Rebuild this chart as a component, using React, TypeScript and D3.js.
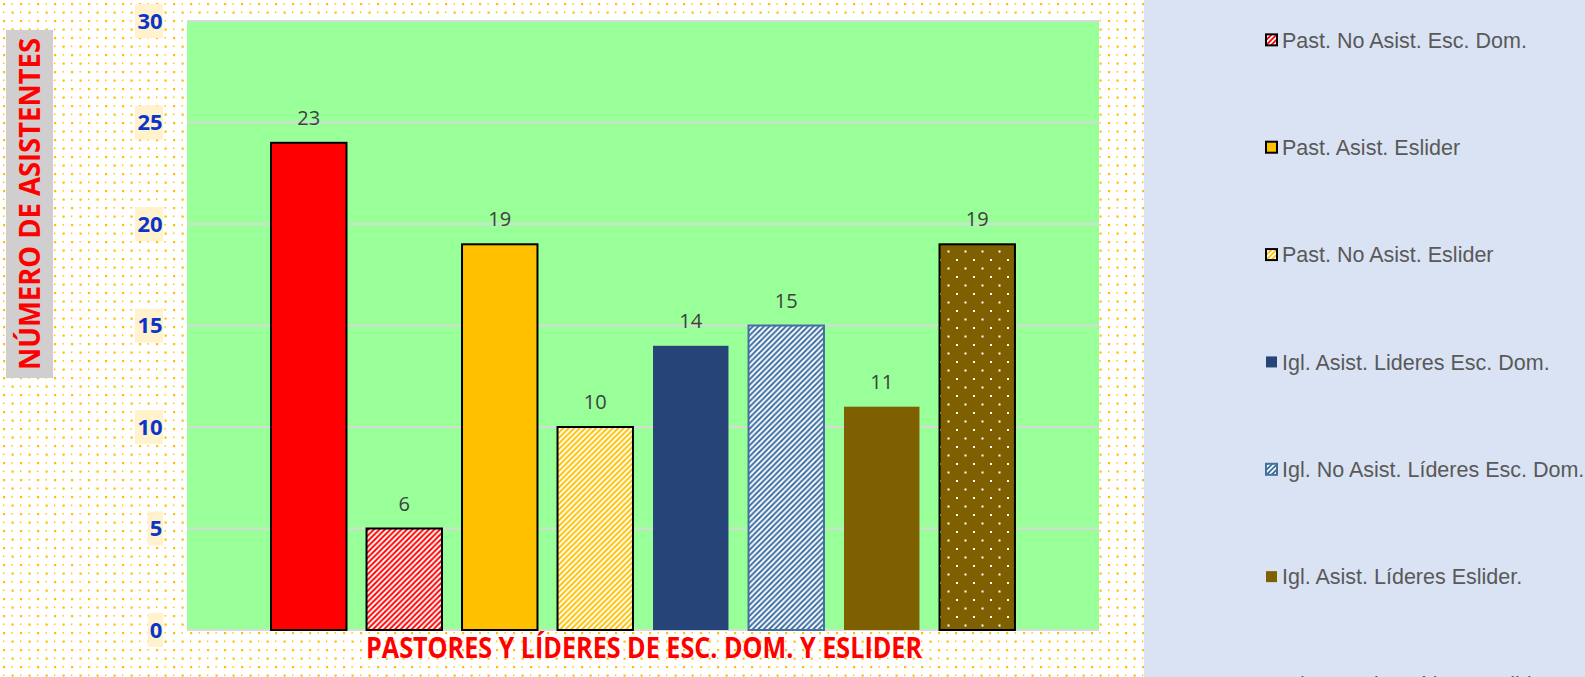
import React from 'react';
import * as d3 from 'd3';

// series shown as separate bars (one category, eight series)
const seriesNames = [
  'Past. Asist. Esc. Dom.',
  'Past. No Asist. Esc. Dom.',
  'Past. Asist. Eslider',
  'Past. No Asist. Eslider',
  'Igl. Asist. Lideres Esc. Dom.',
  'Igl. No Asist. Líderes Esc. Dom.',
  'Igl. Asist. Líderes Eslider.',
  'Igl. No Asist. Líderes Eslider',
];
// bar heights as drawn
const barValues = [24, 5, 19, 10, 14, 15, 11, 19];
// data label texts as printed
const barLabels = ['23', '6', '19', '10', '14', '15', '11', '19'];
const yTicks = [0, 5, 10, 15, 20, 25, 30];

const fills = ['#FF0000', 'url(#stripeRed)', '#FFC000', 'url(#stripeYellow)', '#264478', 'url(#stripeBlue)', '#7F6000', 'url(#dotsBrown)'];
const legendFills = ['#FF0000', 'url(#legRed)', '#FFC000', 'url(#legYellow)', '#264478', 'url(#legBlue)', '#7F6000', 'url(#dotsBrown)'];
const strokes = ['#000', '#000', '#000', '#000', 'none', '#41719C', 'none', '#000'];

const W = 1585;
const H = 677;
const plot = { left: 187, right: 1099, top: 21, bottom: 630 };

// diagonal "/" stripes on a small tile
const Stripe = ({ id, color, p = 5.5 }: { id: string; color: string; p?: number }) => {
  const h = p / 2;
  return (
    <pattern id={id} patternUnits="userSpaceOnUse" width={p} height={p}>
      <rect width={p} height={p} fill="#fff" />
      <polygon points={`0,0 ${h},0 0,${h}`} fill={color} />
      <polygon points={`${p},0 ${p},${h} ${h},${p} 0,${p}`} fill={color} />
    </pattern>
  );
};

export default function App() {
  const x = d3
    .scaleBand<string>()
    .domain(seriesNames)
    .range([plot.left, plot.right])
    .paddingInner(0.21)
    .paddingOuter(0.88);
  const y = d3.scaleLinear().domain([0, 30]).range([plot.bottom, plot.top]);
  // legend is scrolled: first entry sits above the visible area
  const legendY = d3.scaleLinear().domain([0, 7]).range([-67.5, 684]);

  return (
    <div style={{ position: 'absolute', left: 0, top: 0, width: W, height: H, overflow: 'hidden' }}>
      <svg width={W} height={H} style={{ display: 'block' }}>
        <defs>
          <pattern id="bgDots" patternUnits="userSpaceOnUse" width={17} height={17}>
            <rect width={17} height={17} fill="#fff" />
            <rect x={3} y={3} width={2.2} height={2.2} fill="#FFC000" />
            <rect x={11.5} y={11.5} width={2.2} height={2.2} fill="#FFC000" />
            <rect x={11.5} y={3} width={1.3} height={1.6} fill="#FFC000" />
            <rect x={3} y={11.5} width={1.3} height={1.6} fill="#FFC000" />
          </pattern>
          <Stripe id="stripeRed" color="#FF0000" />
          <Stripe id="stripeYellow" color="#FFC000" />
          <Stripe id="stripeBlue" color="#3A6BA0" />
          <Stripe id="legRed" color="#FF0000" p={5} />
          <Stripe id="legYellow" color="#FFC000" p={5} />
          <Stripe id="legBlue" color="#3A6BA0" p={5} />
          <pattern id="dotsBrown" patternUnits="userSpaceOnUse" width={17} height={17}>
            <rect width={17} height={17} fill="#7F6000" />
            <rect x={4} y={4} width={2} height={2} fill="#fff" />
            <rect x={12.5} y={12.5} width={2} height={2} fill="#fff" />
          </pattern>
        </defs>

        {/* chart area background */}
        <rect x={0} y={0} width={1144} height={H} fill="url(#bgDots)" />
        <rect
          x={plot.left}
          y={plot.top}
          width={plot.right - plot.left}
          height={plot.bottom - plot.top}
          fill="#99FF99"
        />

        {/* gridlines */}
        {yTicks.map((t) => (
          <line key={t} x1={plot.left} x2={plot.right} y1={y(t)} y2={y(t)} stroke="#D9D9D9" strokeWidth={2} />
        ))}

        {/* y tick labels on beige boxes */}
        {yTicks.map((t) => {
          const w = String(t).length * 13 + 2;
          return (
            <g key={t}>
              <rect x={163 - w} y={y(t) - 17} width={w} height={34} fill="#FFF2CC" />
              <text
                x={150 + (String(t).length === 1 ? 6 : 0)}
                y={y(t)}
                dy="0.36em"
                textAnchor="middle"
                fontFamily="'Open Sans', sans-serif"
                fontWeight="bold"
                fontSize={22}
                fill="#0B35C8"
              >
                {t}
              </text>
            </g>
          );
        })}

        {/* bars */}
        {seriesNames.map((s, i) => (
          <rect
            key={s}
            x={x(s)}
            y={y(barValues[i])}
            width={x.bandwidth()}
            height={y(0) - y(barValues[i])}
            fill={fills[i]}
            stroke={strokes[i]}
            strokeWidth={strokes[i] === 'none' ? 0 : 2}
          />
        ))}

        {/* data labels */}
        {seriesNames.map((s, i) => (
          <text
            key={s}
            x={(x(s) as number) + x.bandwidth() / 2}
            y={y(barValues[i]) - 18}
            textAnchor="middle"
            fontFamily="'Open Sans', sans-serif"
            fontSize={20}
            fill="#404040"
          >
            {barLabels[i]}
          </text>
        ))}

        {/* y axis title */}
        <rect x={6} y={30} width={47} height={348} fill="#D0CECE" />
        <text
          transform={`translate(40,204) rotate(-90)`}
          textAnchor="middle"
          fontFamily="'Open Sans', sans-serif"
          fontWeight="bold"
          fontSize={28}
          fill="#FF0000"
          textLength={332}
          lengthAdjust="spacingAndGlyphs"
        >
          NÚMERO DE ASISTENTES
        </text>

        {/* x axis title */}
        <text
          x={644}
          y={658}
          textAnchor="middle"
          fontFamily="'Open Sans', sans-serif"
          fontWeight="bold"
          fontSize={28}
          fill="#FF0000"
          textLength={556}
          lengthAdjust="spacingAndGlyphs"
        >
          PASTORES Y LÍDERES DE ESC. DOM. Y ESLIDER
        </text>

        {/* legend panel */}
        <rect x={1144} y={0} width={W - 1144} height={H} fill="#DAE3F3" />
        {seriesNames.map((s, i) => {
          const cy = legendY(i);
          if (cy < 0) return null; // scrolled out of view
          const hasStroke = strokes[i] !== 'none';
          return (
            <g key={s}>
              <rect
                x={1266}
                y={cy - 5.5}
                width={11}
                height={11}
                fill={legendFills[i]}
                stroke={hasStroke ? strokes[i] : 'none'}
                strokeWidth={hasStroke ? 2 : 0}
              />
              <text
                x={1282}
                y={cy}
                dy="0.36em"
                fontFamily="'Liberation Sans', Arial, sans-serif"
                fontSize={21.5}
                fill="#595959"
              >
                {s}
              </text>
            </g>
          );
        })}
      </svg>
    </div>
  );
}
